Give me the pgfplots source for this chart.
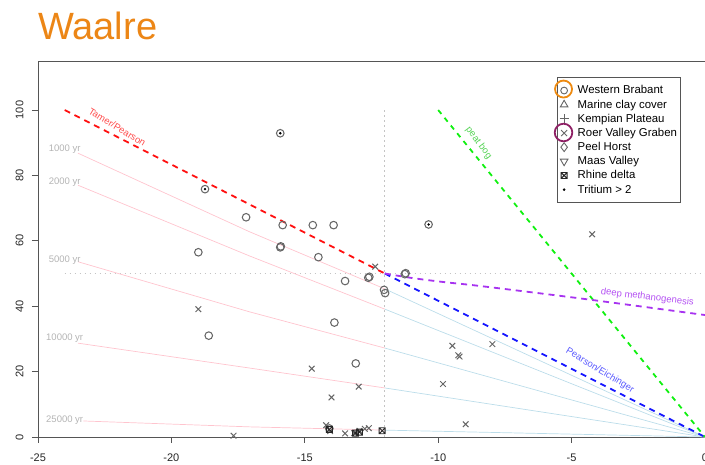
\documentclass[border=0pt]{standalone}
\usepackage{pgfplots}
\pgfplotsset{compat=1.18}
\usepackage{fontspec}
\setmainfont{Liberation Sans}
\definecolor{ptgray}{HTML}{666666}
\definecolor{axgray}{HTML}{555555}
\definecolor{titleorange}{HTML}{EC8616}
\definecolor{annorange}{HTML}{EE8A10}
\definecolor{annpurple}{HTML}{8E1F64}
\definecolor{rpink}{HTML}{FFC4CE}
\definecolor{rlightblue}{HTML}{BCDDEA}
\definecolor{rgrey}{HTML}{C4C4C4}
\definecolor{rred}{HTML}{FF1010}
\definecolor{rblue}{HTML}{1515FF}
\definecolor{rgreen}{HTML}{10F010}
\definecolor{rpurple}{HTML}{A733F0}
\definecolor{labgray}{HTML}{B4B4B4}
\pgfdeclareplotmark{boxx}{%
  \pgfpathrectangle{\pgfqpoint{-\pgfplotmarksize}{-\pgfplotmarksize}}{\pgfqpoint{2\pgfplotmarksize}{2\pgfplotmarksize}}%
  \pgfpathmoveto{\pgfqpoint{-\pgfplotmarksize}{-\pgfplotmarksize}}\pgfpathlineto{\pgfqpoint{\pgfplotmarksize}{\pgfplotmarksize}}%
  \pgfpathmoveto{\pgfqpoint{-\pgfplotmarksize}{\pgfplotmarksize}}\pgfpathlineto{\pgfqpoint{\pgfplotmarksize}{-\pgfplotmarksize}}%
  \pgfusepathqstroke}
\pgfplotstableread{
x y
-18.74 75.8
-15.92 92.9
-10.36 65.0
-17.20 67.2
-15.83 64.8
-14.70 64.8
-13.92 64.8
-18.99 56.5
-15.92 58.0
-15.90 58.3
-14.49 55.0
-13.49 47.7
-12.58 49.0
-12.62 48.7
-12.03 45.0
-11.99 44.0
-11.25 49.8
-11.22 50.1
-18.60 31.0
-13.89 35.0
-13.09 22.5
-14.08 2.6
}\wbtable
\pgfplotstableread{
x y
-12.36 52.1
-18.99 39.1
-17.67 0.4
-14.74 20.9
-12.98 15.4
-14.00 12.1
-14.20 3.6
-14.05 1.8
-13.49 1.1
-13.15 1.2
-12.95 1.9
-12.75 2.5
-12.60 2.7
-9.47 27.9
-7.97 28.4
-9.25 25.0
-9.20 24.6
-9.82 16.2
-8.97 3.9
-4.23 62.0
}\rvgtable
\pgfplotstableread{
x y
-14.08 2.3
-13.10 1.2
-12.95 1.5
-12.10 1.9
}\rhinetable
\pgfplotstableread{
x y
-18.74 75.8
-15.92 92.9
-10.36 65.0
}\tritiumtable
\begin{document}
\begin{tikzpicture}
\path[use as bounding box] (-38pt,-28pt) rectangle (667pt,437pt);
\begin{axis}[
  scale only axis, width=667pt, height=376pt,
  at={(0pt,0pt)}, anchor=south west,
  xmin=-25, xmax=0, ymin=0, ymax=115,
  clip=false,
  axis line style={axgray, line width=0.9pt},
  tick style={axgray, line width=0.9pt},
  tick align=outside, major tick length=6pt,
  xtick={-25,-20,-15,-10,-5,0},
  xticklabels={-25,-20,-15,-10,-5,0},
  ytick={0,20,40,60,80,100},
  yticklabels={0,20,40,60,80,100},
  xtick pos=bottom, ytick pos=left,
  ticklabel style={font=\fontsize{11}{12}\selectfont, text=black!85},
  yticklabel style={rotate=90, anchor=south},
  yticklabel shift=5pt,
  xticklabel style={anchor=north},
  xticklabel shift=7pt,
  legend style={at={(0.778,0.957)}, anchor=north west, draw=axgray, line width=0.6pt,
    font=\fontsize{11.4}{13}\selectfont, inner xsep=2.5pt, inner ysep=7pt,
    row sep=2pt, nodes={inner sep=1.2pt},
    /tikz/every odd column/.append style={column sep=8pt}},
  legend cell align=left,
]
% reference lines
\addplot[rgrey, line width=1.1pt, dash pattern=on 1.6pt off 3.4pt, forget plot] coordinates {(-24,50) (0,50)};
\addplot[rgrey, line width=1.1pt, dash pattern=on 1.6pt off 3.4pt, forget plot] coordinates {(-12,0) (-12,100)};
% age lines (pink) and continuation (light blue)
\addplot[rpink, line width=0.7pt, forget plot] coordinates {(-23.5,86.8) (-17.08,62.8) (-12,45.3)};
\addplot[rpink, line width=0.7pt, forget plot] coordinates {(-23.5,77.0) (-17.08,55.4) (-12,39.1)};
\addplot[rpink, line width=0.7pt, forget plot] coordinates {(-23.5,53.6) (-17.08,38.3) (-12,27.2)};
\addplot[rpink, line width=0.7pt, forget plot] coordinates {(-23.5,28.7) (-17.08,21.1) (-12,15.0)};
\addplot[rpink, line width=0.7pt, forget plot] coordinates {(-23.3,4.9) (-17.08,3.1) (-12,2.1)};
\addplot[rlightblue, line width=0.7pt, forget plot] coordinates {(-12,45.3) (0,0)};
\addplot[rlightblue, line width=0.7pt, forget plot] coordinates {(-12,39.1) (0,0)};
\addplot[rlightblue, line width=0.7pt, forget plot] coordinates {(-12,27.2) (0,0)};
\addplot[rlightblue, line width=0.7pt, forget plot] coordinates {(-12,15.0) (0,0)};
\addplot[rlightblue, line width=0.7pt, forget plot] coordinates {(-12,2.1) (0,0)};
% dashed model lines
\addplot[rred, line width=1.8pt, dash pattern=on 6pt off 5pt, forget plot] coordinates {(-24,100) (-12,50)};
\addplot[rblue, line width=1.8pt, dash pattern=on 6pt off 5pt, forget plot] coordinates {(-12,50) (0,0)};
\addplot[rgreen, line width=1.8pt, dash pattern=on 5pt off 5pt, forget plot] coordinates {(-10,100) (0,0)};
\addplot[rpurple, line width=1.8pt, dash pattern=on 6pt off 5pt, smooth, forget plot] coordinates {(-12,50) (-10.96,48.6) (-9.7,47.3) (-8.45,46.2) (-4.69,42.4) (0,37.3)};
% line labels
\node[text=labgray, font=\fontsize{9.5}{11}\selectfont] at (axis cs:-24,88) {1000 yr};
\node[text=labgray, font=\fontsize{9.5}{11}\selectfont] at (axis cs:-24,78) {2000 yr};
\node[text=labgray, font=\fontsize{9.5}{11}\selectfont] at (axis cs:-24,54.1) {5000 yr};
\node[text=labgray, font=\fontsize{9.5}{11}\selectfont] at (axis cs:-24,30.2) {10000 yr};
\node[text=labgray, font=\fontsize{9.5}{11}\selectfont] at (axis cs:-24,5.0) {25000 yr};
\node[text=rred!75, font=\fontsize{9.5}{11}\selectfont, rotate=-31] at (axis cs:-22.03,94.8) {Tamer/Pearson};
\node[text=rgreen!80!black!70!white, font=\fontsize{9.5}{11}\selectfont, rotate=-53] at (axis cs:-8.48,89.9) {peat bog};
\node[text=rpurple!85, font=\fontsize{9.5}{11}\selectfont, rotate=-7] at (axis cs:-2.16,42.7) {deep methanogenesis};
\node[text=rblue!70, font=\fontsize{9.5}{11}\selectfont, rotate=-31] at (axis cs:-3.94,20.3) {Pearson/Eichinger};
% data
\addplot[only marks, mark=o, mark size=3.8pt, ptgray, line width=1.05pt, forget plot] table {\wbtable};
\addplot[only marks, mark=x, mark size=4pt, ptgray, line width=1pt, forget plot] table {\rvgtable};
\addplot[only marks, mark=boxx, mark size=3pt, black!85, line width=0.9pt, forget plot] table {\rhinetable};
\addplot[only marks, mark=*, mark size=1pt, black, forget plot] table {\tritiumtable};
% legend
\addlegendimage{legend image code/.code={\draw[ptgray, line width=0.9pt] (0pt,0pt) circle (3.4pt); \draw[overlay, annorange, line width=1.8pt] (-0.6pt,1.5pt) circle (8.5pt);}}
\addlegendentry{Western Brabant}
\addlegendimage{legend image code/.code={\path[draw=ptgray, line width=0.9pt] plot[only marks, mark=triangle, mark size=4.4pt] coordinates {(0pt,0pt)};}}
\addlegendentry{Marine clay cover}
\addlegendimage{legend image code/.code={\path[draw=ptgray, line width=0.9pt] plot[only marks, mark=+, mark size=4.4pt] coordinates {(0pt,0pt)};}}
\addlegendentry{Kempian Plateau}
\addlegendimage{legend image code/.code={\path[draw=ptgray, line width=0.9pt] plot[only marks, mark=x, mark size=4.2pt] coordinates {(0pt,0pt)}; \draw[overlay, annpurple, line width=1.8pt] (-0.6pt,0.5pt) circle (8.8pt);}}
\addlegendentry{Roer Valley Graben}
\addlegendimage{legend image code/.code={\path[draw=ptgray, line width=0.9pt] plot[only marks, mark=diamond, mark size=4.4pt] coordinates {(0pt,0pt)};}}
\addlegendentry{Peel Horst}
\addlegendimage{legend image code/.code={\path[draw=ptgray, line width=0.9pt] plot[only marks, mark=triangle, mark size=4.4pt, mark options={rotate=180}] coordinates {(0pt,0pt)};}}
\addlegendentry{Maas Valley}
\addlegendimage{legend image code/.code={\path[draw=black!85, line width=0.9pt] plot[only marks, mark=boxx, mark size=3pt] coordinates {(0pt,0pt)};}}
\addlegendentry{Rhine delta}
\addlegendimage{legend image code/.code={\path[fill=black] plot[only marks, mark=*, mark size=1pt] coordinates {(0pt,0pt)};}}
\addlegendentry{Tritium > 2}
\end{axis}
\node[anchor=base west, inner sep=0pt, text=titleorange, font=\fontsize{38}{40}\selectfont] at (0pt,397pt) {Waalre};
\end{tikzpicture}
\end{document}
